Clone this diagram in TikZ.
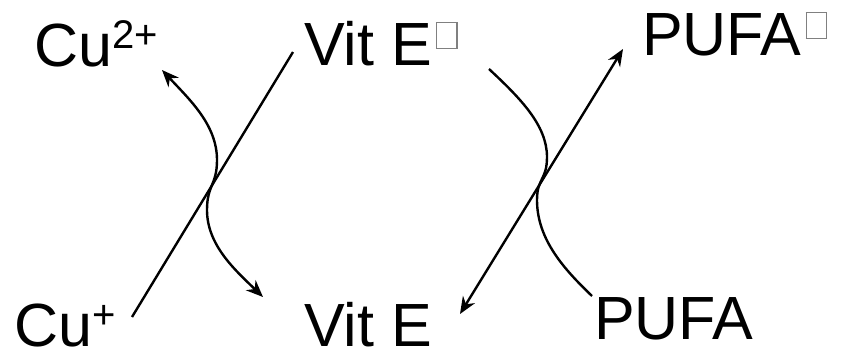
\documentclass[tikz,border=0pt]{standalone}
\usepackage{fontspec}
\setmainfont{Liberation Sans}
\usepackage{xcolor}
\usetikzlibrary{arrows.meta}

\newcommand{\ionsup}[1]{\raisebox{18pt}{\fontsize{40}{40}\selectfont #1}}
\newcommand{\radbox}{\hspace{4pt}\raisebox{17pt}{\color{gray}\setlength\fboxsep{0pt}\setlength\fboxrule{1.3pt}\fbox{\rule{0pt}{25pt}\hspace{19pt}}}}

\begin{document}
\begin{tikzpicture}[x=1pt,y=-1pt,
    every node/.style={anchor=base west,inner sep=0pt,font=\fontsize{61}{70}\selectfont},
    link/.style={line width=2.4pt},
    twoway/.style={line width=2.4pt,{Stealth[length=17pt,width=14pt]}-{Stealth[length=17pt,width=14pt]}}]
  \useasboundingbox (0,0) rectangle (841,354);
  % species
  \node (cuII) at (34,66) {Cu\ionsup{2+}};
  \node (vitErad) at (304,65) {Vit E\radbox};
  \node (pufarad) at (642,55) {PUFA\radbox};
  \node (cuI) at (14,346) {Cu\ionsup{+}};
  \node (vitE) at (304,346) {Vit E};
  \node (pufa) at (594,339) {PUFA};
  % ends of the connectors
  \coordinate (cuIend) at (132,317);
  \coordinate (vitEradL) at (293,52);
  \coordinate (cuIItip) at (162,70);
  \coordinate (vitEtip) at (263,297);
  \coordinate (vitEradR) at (489,69);
  \coordinate (pufaend) at (592,296);
  \coordinate (vitEtipR) at (460,314);
  \coordinate (pufaradtip) at (623,49);
  % copper pair
  \draw[link] (cuIend) -- (vitEradL);
  \draw[twoway] (cuIItip) .. controls (190,100) and (217,125) .. (217,160)
    .. controls (217,185) and (207,185) .. (207,210)
    .. controls (207,245) and (235,270) .. (vitEtip);
  % PUFA pair
  \draw[link] (vitEradR) .. controls (520,98) and (547,125) .. (547,157)
    .. controls (547,180) and (537,178) .. (537,200)
    .. controls (537,240) and (565,270) .. (pufaend);
  \draw[twoway] (vitEtipR) -- (pufaradtip);
\end{tikzpicture}
\end{document}
